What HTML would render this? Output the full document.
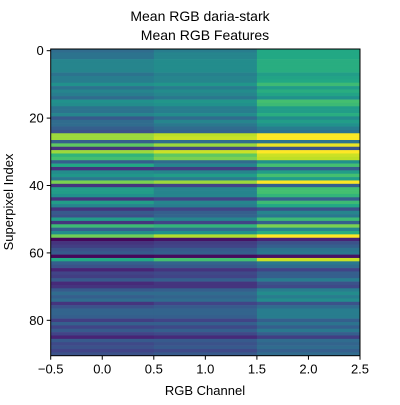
<!DOCTYPE html>
<html><head><meta charset="utf-8"><style>
body{margin:0;background:#fff}
svg text{font-family:"Liberation Sans","DejaVu Sans",sans-serif;fill:#000}
</style></head><body>
<svg id="c" width="400" height="400" xmlns="http://www.w3.org/2000/svg">
<text x="200" y="21" font-size="14" text-anchor="middle">Mean RGB daria-stark</text>
<text x="205" y="40" font-size="14" text-anchor="middle">Mean RGB Features</text>
<g id="cells"></g>
<rect x="50.7" y="49" width="309.3" height="306.7" fill="none" stroke="#000" stroke-width="1"/>
<g id="xt"></g>
<g id="yt"></g>
<text x="205" y="395" font-size="13" text-anchor="middle">RGB Channel</text>
<text transform="translate(13,202) rotate(-90)" font-size="13" text-anchor="middle">Superpixel Index</text>
</svg>
<script>
const channels=[0,1,2];
const ch0=[0.35,0.38,0.38,0.45,0.45,0.45,0.45,0.38,0.42,0.42,0.5,0.38,0.45,0.42,0.35,0.5,0.48,0.38,0.38,0.45,0.28,0.35,0.35,0.3,0.25,0.85,0.85,0.3,0.75,0.15,0.85,0.65,0.7,0.3,0.6,0.15,0.48,0.52,0.4,0.8,0.15,0.55,0.55,0.5,0.15,0.55,0.45,0.15,0.28,0.25,0.55,0.15,0.68,0.3,0.48,0.78,0.02,0.15,0.18,0.25,0.28,0.02,0.6,0.3,0.25,0.1,0.2,0.18,0.28,0.12,0.15,0.28,0.35,0.3,0.35,0.15,0.25,0.32,0.32,0.3,0.18,0.3,0.2,0.28,0.2,0.1,0.28,0.22,0.25,0.2,0.25];
const ch1=[0.42,0.45,0.45,0.48,0.48,0.48,0.48,0.43,0.45,0.45,0.52,0.42,0.48,0.45,0.4,0.52,0.5,0.42,0.42,0.48,0.35,0.45,0.4,0.35,0.32,0.9,0.92,0.35,0.85,0.2,0.92,0.75,0.8,0.35,0.45,0.18,0.45,0.55,0.42,0.85,0.2,0.45,0.45,0.45,0.2,0.45,0.42,0.2,0.3,0.32,0.45,0.2,0.65,0.35,0.5,0.88,0.05,0.18,0.2,0.28,0.3,0.03,0.7,0.32,0.28,0.15,0.22,0.2,0.3,0.15,0.15,0.3,0.35,0.32,0.35,0.2,0.28,0.32,0.32,0.3,0.2,0.3,0.22,0.3,0.22,0.12,0.28,0.25,0.28,0.22,0.28];
const ch2=[0.6,0.6,0.6,0.62,0.62,0.62,0.62,0.55,0.58,0.6,0.68,0.55,0.62,0.58,0.5,0.7,0.68,0.55,0.55,0.62,0.48,0.55,0.5,0.42,0.38,1.0,1.0,0.38,0.97,0.25,1.0,0.92,0.9,0.5,0.7,0.3,0.55,0.7,0.55,1.0,0.3,0.7,0.7,0.65,0.3,0.68,0.6,0.25,0.45,0.4,0.68,0.3,0.8,0.45,0.62,1.0,0.1,0.25,0.3,0.38,0.4,0.05,0.92,0.4,0.35,0.2,0.3,0.3,0.42,0.25,0.22,0.42,0.48,0.42,0.48,0.25,0.35,0.42,0.42,0.42,0.3,0.38,0.3,0.4,0.3,0.18,0.35,0.32,0.35,0.3,0.35];
const xTicks=[-0.5,0,0.5,1,1.5,2,2.5];
const yTicks=[0,20,40,60,80];
const series=[ch0,ch1,ch2];
const L=50.7,R=360,T=49,B=355.7,N=ch0.length;
const xs=v=>L+(v+0.5)/3*(R-L);
const ys=v=>T+(v+0.5)/N*(B-T);
const V=[[68,1,84],[72,36,117],[65,68,135],[53,95,141],[42,120,142],[33,145,140],[34,168,132],[68,191,112],[122,209,81],[189,223,38],[253,231,37]];
function vir(t){t=Math.max(0,Math.min(1,t))*10;const i=Math.min(9,Math.floor(t)),f=t-i;const a=V[i],b=V[i+1];return `rgb(${a.map((c,k)=>Math.round(c+(b[k]-c)*f)).join(',')})`;}
const ns="http://www.w3.org/2000/svg";
const g=document.getElementById('cells');
channels.forEach((c,ci)=>{series[ci].forEach((v,r)=>{
 const e=document.createElementNS(ns,'rect');
 
 
 const x0=xs(c-0.5),x1=xs(c+0.5),y0=ys(r-0.5),y1=ys(r+0.5);
 e.setAttribute('x',x0);e.setAttribute('y',y0);e.setAttribute('width',x1-x0+0.3);e.setAttribute('height',y1-y0+0.3);
 e.setAttribute('fill',vir(v));g.appendChild(e);});});
const xt=document.getElementById('xt');
xTicks.forEach(t=>{const x=xs(t);
 const l=document.createElementNS(ns,'line');
 
 
 l.setAttribute('x1',x);l.setAttribute('x2',x);l.setAttribute('y1',B);l.setAttribute('y2',B+4);l.setAttribute('stroke','#000');xt.appendChild(l);
 const s=document.createElementNS(ns,'text');
 
 
 s.setAttribute('x',x);s.setAttribute('y',B+18);s.setAttribute('font-size','13');s.setAttribute('text-anchor','middle');s.textContent=t.toFixed(1).replace('-','\u2212');xt.appendChild(s);});
const yt=document.getElementById('yt');
yTicks.forEach(t=>{const y=ys(t);
 const l=document.createElementNS(ns,'line');
 
 
 l.setAttribute('x1',L-4);l.setAttribute('x2',L);l.setAttribute('y1',y);l.setAttribute('y2',y);l.setAttribute('stroke','#000');yt.appendChild(l);
 const s=document.createElementNS(ns,'text');
 
 
 s.setAttribute('x',L-7);s.setAttribute('y',y+4.5);s.setAttribute('font-size','13');s.setAttribute('text-anchor','end');s.textContent=t;yt.appendChild(s);});
</script>
</body></html>
